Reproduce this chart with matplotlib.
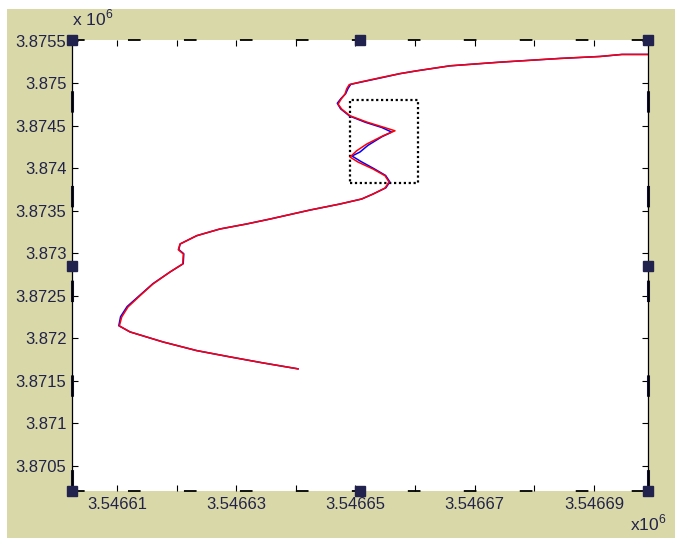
import numpy as np
import matplotlib
matplotlib.use("Agg")
import matplotlib.pyplot as plt
from matplotlib.patches import Rectangle

# track positions (easting, northing)
red_x = [3546640.36, 3546634.49, 3546628.95, 3546623.37, 3546617.71, 3546612.18,
         3546610.39, 3546610.79, 3546611.84, 3546613.86, 3546616.04, 3546618.89,
         3546621.02, 3546621.12, 3546620.28, 3546620.57, 3546623.37, 3546627.27,
         3546631.75, 3546635.66, 3546642.37, 3546647.40, 3546651.04, 3546652.94,
         3546654.95, 3546655.62, 3546654.95, 3546652.94, 3546650.42, 3546649.08,
         3546650.20, 3546651.88, 3546654.61, 3546656.62, 3546654.61, 3546651.88,
         3546649.08, 3546647.69, 3546647.07, 3546647.60, 3546648.24, 3546648.52,
         3546648.95, 3546650.75, 3546654.61, 3546657.46, 3546660.26, 3546665.85,
         3546674.23, 3546684.30, 3546691.01, 3546694.70, 3546699.06]
red_y = [3871638, 3871708, 3871779, 3871853, 3871955, 3872073,
         3872144, 3872249, 3872367, 3872500, 3872638, 3872779,
         3872873, 3872991, 3873041, 3873108, 3873206, 3873285,
         3873344, 3873402, 3873508, 3873579, 3873638, 3873696,
         3873767, 3873838, 3873912, 3873991, 3874073, 3874132,
         3874206, 3874285, 3874382, 3874441, 3874485, 3874544,
         3874618, 3874696, 3874755, 3874815, 3874873, 3874935,
         3874985, 3875014, 3875073, 3875114, 3875147, 3875206,
         3875249, 3875293, 3875316, 3875340, 3875340]

blue_x = [3546640.36, 3546634.49, 3546628.95, 3546623.37, 3546617.71, 3546612.18,
          3546610.30, 3546610.60, 3546611.70, 3546613.80, 3546616.00, 3546618.95,
          3546621.10, 3546621.20, 3546620.35, 3546620.60, 3546623.37, 3546627.27,
          3546631.75, 3546635.66, 3546642.37, 3546647.40, 3546651.04, 3546653.05,
          3546655.10, 3546655.75, 3546655.05, 3546653.10, 3546650.90, 3546649.41,
          3546650.75, 3546652.10, 3546654.40, 3546656.07, 3546654.40, 3546651.70,
          3546649.00, 3546647.50, 3546646.95, 3546647.55, 3546648.35, 3546648.75,
          3546649.20, 3546650.90, 3546654.70, 3546657.46, 3546660.26, 3546665.85,
          3546674.23, 3546684.30, 3546691.01, 3546694.70, 3546699.06]
blue_y = [3871638, 3871708, 3871779, 3871853, 3871955, 3872073,
          3872146, 3872253, 3872372, 3872503, 3872640, 3872781,
          3872876, 3872993, 3873043, 3873109, 3873206, 3873285,
          3873344, 3873402, 3873508, 3873579, 3873638, 3873700,
          3873770, 3873840, 3873915, 3873995, 3874080, 3874144,
          3874191, 3874270, 3874370, 3874426, 3874480, 3874540,
          3874615, 3874700, 3874765, 3874820, 3874878, 3874940,
          3874988, 3875014, 3875071, 3875114, 3875147, 3875206,
          3875249, 3875293, 3875316, 3875340, 3875340]

# zoom window
box_x = [3546649.0, 3546660.5]
box_y = [3873826, 3874802]

x_ticks = [3546610, 3546620, 3546630, 3546640, 3546650, 3546660, 3546670, 3546680, 3546690]
x_labels = ["3.54661", "", "3.54663", "", "3.54665", "", "3.54667", "", "3.54669"]
y_ticks = [3870500, 3871000, 3871500, 3872000, 3872500, 3873000,
           3873500, 3874000, 3874500, 3875000, 3875500]

bg = "#d9d8a8"
txt = "#23234a"
plt.rcParams["font.family"] = ["Liberation Sans", "DejaVu Sans"]
plt.rcParams["mathtext.fontset"] = "custom"
plt.rcParams["mathtext.rm"] = "Liberation Sans"

fig = plt.figure(figsize=(6.75, 5.38), dpi=100, facecolor="white")
fig.patches.append(Rectangle((7 / 675, 0), 1, 1 - 9 / 538, transform=fig.transFigure,
                             facecolor=bg, edgecolor="none", zorder=-10))
ax = fig.add_axes([72 / 675, 1 - 491 / 538, 576 / 675, 451 / 538])
ax.set_facecolor("white")

ax.plot(blue_x, blue_y, color="#0000ff", lw=1.1)
ax.plot(red_x, red_y, color="#ff0000", lw=1.1)
ax.add_patch(Rectangle((box_x[0], box_y[0]), box_x[1] - box_x[0], box_y[1] - box_y[0],
                       fill=False, edgecolor="black", lw=1.6, linestyle=(0, (1, 1.2))))

ax.set_xlim(3546602.45, 3546699.06)
ax.set_ylim(3870200, 3875510)
ax.set_xticks(x_ticks)
ax.set_xticklabels(x_labels)
ax.set_yticks(y_ticks)
ax.set_yticklabels([f"{v / 1e6:g}" for v in y_ticks])
ax.tick_params(direction="in", length=4, width=0.8, top=True, right=True,
               labelsize=12, labelcolor=txt, pad=4)

# selection-style frame: solid sides, dashed top and bottom
for s in ["top", "bottom"]:
    ax.spines[s].set_visible(False)
for s in ["left", "right"]:
    ax.spines[s].set_linewidth(0.9)
dash = (0, (7, 24))
ax.plot([0, 1], [1, 1], transform=ax.transAxes, color="black", lw=1.3, ls=dash, clip_on=False)
ax.plot([0, 1], [0, 0], transform=ax.transAxes, color="black", lw=1.3, ls=dash, clip_on=False)
ax.plot([0, 0], [0, 1], transform=ax.transAxes, color="#111133", lw=2.2, ls=dash, clip_on=False)
ax.plot([1, 1], [0, 1], transform=ax.transAxes, color="#111133", lw=2.2, ls=dash, clip_on=False)

hx = [0, 0.5, 1, 0, 1, 0, 0.5, 1]
hy = [0, 0, 0, 0.5, 0.5, 1, 1, 1]
ax.plot(hx, hy, ls="none", marker="s", ms=7, color="#22224e", transform=ax.transAxes,
        clip_on=False, zorder=10)

fig.text(72 / 675, 1 - 25 / 538, r"x 10$^{6}$", fontsize=12.5, color=txt)
fig.text(630 / 675, 1 - 530 / 538, r"x10$^{6}$", fontsize=12.5, color=txt)

fig.savefig("out.png", dpi=100, facecolor=fig.get_facecolor())
